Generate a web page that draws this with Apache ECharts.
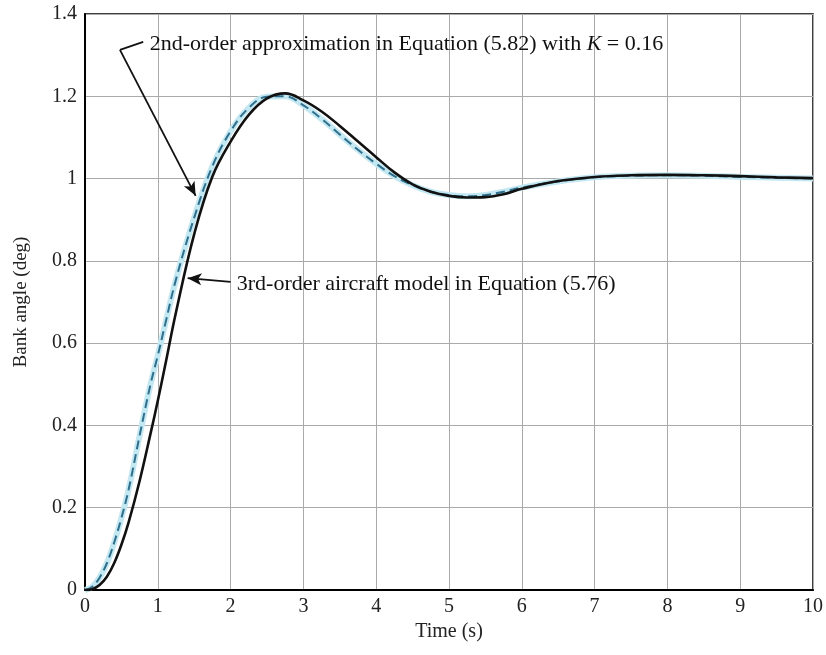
<!DOCTYPE html>
<html>
<head>
<meta charset="utf-8">
<script src="https://cdn.jsdelivr.net/npm/echarts@6/dist/echarts.min.js"></script>
<style>
html,body{margin:0;padding:0;background:#fff;}
#c{width:826px;height:655px;}
</style>
</head>
<body>
<div id="c"></div>
<script>
// Time samples (s)
var timeS = [0,0.1,0.2,0.3,0.4,0.5,0.6,0.75,0.9,1.0,1.1,1.25,1.5,1.75,2.0,2.25,2.5,2.75,3.0,3.25,3.5,3.75,4.0,4.25,4.5,4.75,5.0,5.25,5.5,5.75,6.0,6.5,7.0,7.5,8.0,8.5,9.0,9.5,10];
// 2nd-order approximation (dashed)
var secondOrder = [0,0.008,0.03,0.065,0.115,0.175,0.245,0.375,0.5,0.57,0.645,0.755,0.905,1.03,1.115,1.172,1.199,1.2,1.178,1.145,1.107,1.07,1.036,1.006,0.984,0.968,0.96,0.957,0.96,0.968,0.978,0.993,1.003,1.007,1.008,1.007,1.004,1.002,1.0];
// 3rd-order aircraft model (solid)
var thirdOrder = [0,0.002,0.012,0.032,0.065,0.11,0.165,0.265,0.38,0.46,0.545,0.675,0.865,1.005,1.09,1.155,1.195,1.207,1.19,1.163,1.128,1.09,1.052,1.015,0.986,0.968,0.958,0.954,0.955,0.962,0.975,0.994,1.004,1.008,1.009,1.008,1.006,1.003,1.001];
var xTicks = [0,1,2,3,4,5,6,7,8,9,10];
var yTicks = [0,0.2,0.4,0.6,0.8,1,1.2,1.4];
var label2nd = '2nd-order approximation in Equation (5.82) with {i|K} = 0.16';
var label3rd = '3rd-order aircraft model in Equation (5.76)';

function pairs(xs, ys){ return xs.map(function(x,i){return [x, ys[i]];}); }

var FONT = '"Liberation Serif","DejaVu Serif",serif';
var chart = echarts.init(document.getElementById('c'), null, {renderer:'canvas'});

var option = {
  backgroundColor:'#fff',
  animation:false,
  grid:{left:85, right:12, top:14, bottom:65, show:true, borderColor:'#000', borderWidth:1.5, backgroundColor:'transparent'},
  xAxis:{
    type:'value', min:0, max:10, interval:1,
    name:'Time (s)', nameLocation:'middle', nameGap:28,
    nameTextStyle:{fontFamily:FONT, fontSize:20, color:'#222'},
    axisLine:{show:true, lineStyle:{color:'#000', width:2}},
    axisTick:{show:false},
    axisLabel:{fontFamily:FONT, fontSize:20, color:'#222', margin:7},
    splitLine:{show:true, lineStyle:{color:'#aaaaaa', width:1}}
  },
  yAxis:{
    type:'value', min:0, max:1.4, interval:0.2,
    name:'Bank angle (deg)', nameLocation:'middle', nameGap:54,
    nameTextStyle:{fontFamily:FONT, fontSize:19, color:'#222'},
    axisLine:{show:true, lineStyle:{color:'#000', width:2}},
    axisTick:{show:false},
    axisLabel:{fontFamily:FONT, fontSize:20, color:'#222', margin:8,
      formatter:function(v){ return String(Math.round(v*10)/10); }},
    splitLine:{show:true, lineStyle:{color:'#aaaaaa', width:1}}
  },
  series:[
    {type:'line', name:'halo', data:pairs(timeS, secondOrder), smooth:0.4, showSymbol:false, z:2,
     lineStyle:{color:'#c4e8f2', width:6}},
    {type:'line', name:'2nd-order', data:pairs(timeS, secondOrder), smooth:0.4, showSymbol:false, z:3,
     lineStyle:{color:'#2f6f8c', width:2, type:[9,5]}},
    {type:'line', name:'3rd-order', data:pairs(timeS, thirdOrder), smooth:0.4, showSymbol:false, z:4,
     lineStyle:{color:'#111', width:2.6},
     markLine:{silent:true, symbolSize:[0,0], label:{show:false}, animation:false,
       lineStyle:{color:'#111', width:1.8, type:'solid'},
       data:[
         [{coord:[0.80,1.332], symbol:'none'},{coord:[0.48,1.313], symbol:'none'}],
         [{coord:[0.48,1.313], symbol:'none'},{coord:[1.52,0.958], symbol:'arrow', symbolSize:[9,14]}],
         [{coord:[2.0,0.749], symbol:'none'},{coord:[1.41,0.758], symbol:'arrow', symbolSize:[9,14]}]
       ]}
    }
  ]
};
chart.setOption(option);

var p1 = chart.convertToPixel({gridIndex:0}, [0.89,1.325]);
var p2 = chart.convertToPixel({gridIndex:0}, [2.085,0.741]);
chart.setOption({
  graphic:[
    {type:'text', left:p1[0], top:p1[1]-12, z:10,
     style:{text:label2nd, fontFamily:FONT, fontSize:22, fill:'#111',
       rich:{i:{fontFamily:FONT, fontSize:22, fontStyle:'italic', fill:'#111'}}}},
    {type:'text', left:p2[0], top:p2[1]-12, z:10,
     style:{text:label3rd, fontFamily:FONT, fontSize:22, fill:'#111'}}
  ]
});
</script>
</body>
</html>
